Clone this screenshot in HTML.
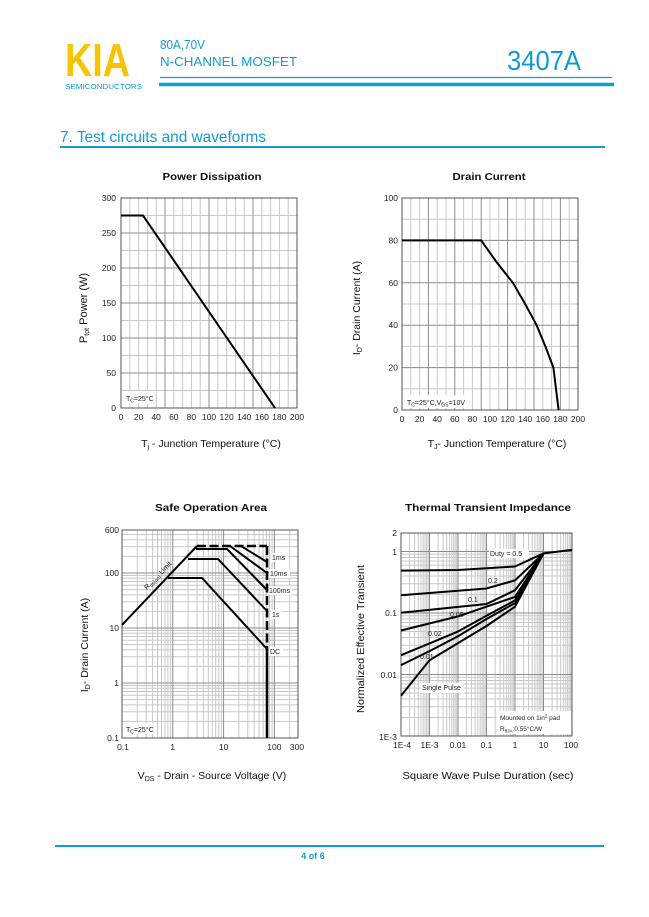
<!DOCTYPE html>
<html><head><meta charset="utf-8"><style>
html,body{margin:0;padding:0;background:#fff;}
svg{display:block;font-family:"Liberation Sans",sans-serif;}
</style></head><body>
<svg width="649" height="917" viewBox="0 0 649 917" xmlns="http://www.w3.org/2000/svg">
<rect width="649" height="917" fill="#fff"/>
<!-- HEADER -->
<text x="65" y="76" font-size="46" font-weight="bold" fill="#f8c300" textLength="65" lengthAdjust="spacingAndGlyphs">KIA</text>
<text x="65" y="89" font-size="7.5" fill="#0f9bd7" textLength="77" lengthAdjust="spacingAndGlyphs">SEMICONDUCTORS</text>
<text x="160" y="49" font-size="12.5" fill="#0f9bd7" textLength="45" lengthAdjust="spacingAndGlyphs">80A,70V</text>
<text x="160" y="66" font-size="12.5" fill="#0f9bd7" textLength="137" lengthAdjust="spacingAndGlyphs">N-CHANNEL MOSFET</text>
<text x="507" y="70" font-size="28" fill="#0f9bd7" textLength="74" lengthAdjust="spacingAndGlyphs">3407A</text>
<line x1="160" y1="77.5" x2="612" y2="77.5" stroke="#0f9bd7" stroke-width="1.3"/>
<line x1="159" y1="84.5" x2="614" y2="84.5" stroke="#0f9bd7" stroke-width="3.5"/>
<text x="60" y="142" font-size="16" fill="#0f9bd7" textLength="206" lengthAdjust="spacingAndGlyphs">7. Test circuits and waveforms</text>
<line x1="60" y1="147" x2="605" y2="147" stroke="#0f9bd7" stroke-width="2"/>

<!-- ================= POWER DISSIPATION ================= -->
<text x="212" y="180" font-size="10.5" font-weight="bold" text-anchor="middle" fill="#111" textLength="99" lengthAdjust="spacingAndGlyphs">Power Dissipation</text>
<path d="M129.8 198V408M138.6 198V408M147.4 198V408M156.2 198V408M173.8 198V408M182.6 198V408M191.4 198V408M200.2 198V408M217.8 198V408M226.6 198V408M235.4 198V408M244.2 198V408M261.8 198V408M270.6 198V408M279.4 198V408M288.2 198V408M121 390.5H297M121 355.5H297M121 320.5H297M121 285.5H297M121 250.5H297M121 215.5H297" stroke="#c8c8c8" stroke-width="1" fill="none"/>
<path d="M165 198V408M209 198V408M253 198V408M121 373H297M121 338H297M121 303H297M121 268H297M121 233H297" stroke="#8c8c8c" stroke-width="1" fill="none"/>
<rect x="121" y="198" width="176" height="210" fill="none" stroke="#555" stroke-width="1"/>
<polyline points="121,215.5 143,215.5 275,408" fill="none" stroke="#000" stroke-width="2"/>
<rect x="124" y="391" width="26" height="13" fill="#fff"/>
<text x="126" y="401" font-size="7" fill="#222">T<tspan font-size="5" dy="1.5">C</tspan><tspan dy="-1.5">=25°C</tspan></text>
<g font-size="8.5" fill="#222" text-anchor="end">
<text x="116" y="411">0</text><text x="116" y="376">50</text><text x="116" y="341">100</text><text x="116" y="306">150</text><text x="116" y="271">200</text><text x="116" y="236">250</text><text x="116" y="201">300</text>
</g>
<g font-size="8.5" fill="#222" text-anchor="middle">
<text x="121" y="420">0</text><text x="138.6" y="420">20</text><text x="156.2" y="420">40</text><text x="173.8" y="420">60</text><text x="191.4" y="420">80</text><text x="209" y="420">100</text><text x="226.6" y="420">120</text><text x="244.2" y="420">140</text><text x="261.8" y="420">160</text><text x="279.4" y="420">180</text><text x="297" y="420">200</text>
</g>
<text x="211" y="447" font-size="10.5" fill="#111" text-anchor="middle">T<tspan font-size="7" dy="2">j</tspan><tspan dy="-2"> - Junction Temperature (°C)</tspan></text>
<text transform="translate(87,308) rotate(-90)" font-size="11" fill="#111" text-anchor="middle">P<tspan font-size="7" dy="2">tot</tspan><tspan dy="-2">  Power (W)</tspan></text>

<!-- ================= DRAIN CURRENT ================= -->
<text x="489" y="180" font-size="10.5" font-weight="bold" text-anchor="middle" fill="#111" textLength="73" lengthAdjust="spacingAndGlyphs">Drain Current</text>
<path d="M410.8 198V410M419.6 198V410M437.2 198V410M446 198V410M463.6 198V410M472.4 198V410M490 198V410M498.8 198V410M516.4 198V410M525.2 198V410M542.8 198V410M551.6 198V410M569.2 198V410M402 388.8H578M402 346.4H578M402 304H578M402 261.6H578M402 219.2H578" stroke="#c8c8c8" stroke-width="1" fill="none"/>
<path d="M428.4 198V410M454.8 198V410M481.2 198V410M507.6 198V410M534 198V410M560.4 198V410M402 367.6H578M402 325.2H578M402 282.8H578M402 240.4H578" stroke="#8c8c8c" stroke-width="1" fill="none"/>
<rect x="402" y="198" width="176" height="212" fill="none" stroke="#555" stroke-width="1"/>
<polyline points="402,240.4 481.2,240.4 496.2,261.6 512.9,282.8 525.2,304 536.6,325.2 545.4,346.4 553.4,367.6 558.6,410" fill="none" stroke="#000" stroke-width="2"/>
<rect x="405" y="395" width="66" height="13" fill="#fff"/>
<text x="407" y="405" font-size="7" fill="#222">T<tspan font-size="5" dy="1.5">C</tspan><tspan dy="-1.5">=25°C,V</tspan><tspan font-size="5" dy="1.5">GS</tspan><tspan dy="-1.5">=10V</tspan></text>
<g font-size="8.5" fill="#222" text-anchor="end">
<text x="398" y="413">0</text><text x="398" y="370.6">20</text><text x="398" y="328.2">40</text><text x="398" y="285.8">60</text><text x="398" y="243.4">80</text><text x="398" y="201">100</text>
</g>
<g font-size="8.5" fill="#222" text-anchor="middle">
<text x="402" y="422">0</text><text x="419.6" y="422">20</text><text x="437.2" y="422">40</text><text x="454.8" y="422">60</text><text x="472.4" y="422">80</text><text x="490" y="422">100</text><text x="507.6" y="422">120</text><text x="525.2" y="422">140</text><text x="542.8" y="422">160</text><text x="560.4" y="422">180</text><text x="578" y="422">200</text>
</g>
<text x="497" y="447" font-size="10.5" fill="#111" text-anchor="middle">T<tspan font-size="7" dy="2">J</tspan><tspan dy="-2">- Junction Temperature (°C)</tspan></text>
<text transform="translate(360,308) rotate(-90)" font-size="10.5" fill="#111" text-anchor="middle">I<tspan font-size="7" dy="2">D</tspan><tspan dy="-2">- Drain Current (A)</tspan></text>

<!-- ================= SAFE OPERATION AREA ================= -->
<text x="211" y="511" font-size="10.5" font-weight="bold" text-anchor="middle" fill="#111" textLength="112" lengthAdjust="spacingAndGlyphs">Safe Operation Area</text>
<path d="M137.3 530V738M146.2 530V738M152.6 530V738M157.5 530V738M161.5 530V738M164.9 530V738M167.9 530V738M170.5 530V738M188.1 530V738M197 530V738M203.4 530V738M208.3 530V738M212.3 530V738M215.7 530V738M218.7 530V738M221.3 530V738M238.9 530V738M247.8 530V738M254.2 530V738M259.1 530V738M263.1 530V738M266.5 530V738M269.5 530V738M272.1 530V738M289.7 530V738
M122 721.4H298M122 711.8H298M122 704.9H298M122 699.6H298M122 695.2H298M122 691.5H298M122 688.3H298M122 685.5H298M122 666.4H298M122 656.8H298M122 649.9H298M122 644.6H298M122 640.2H298M122 636.5H298M122 633.3H298M122 630.5H298M122 611.4H298M122 601.8H298M122 594.9H298M122 589.6H298M122 585.2H298M122 581.5H298M122 578.3H298M122 575.5H298M122 556.4H298M122 546.8H298M122 539.9H298M122 534.6H298" stroke="#c8c8c8" stroke-width="1" fill="none"/>
<path d="M172.8 530V738M223.6 530V738M274.4 530V738M122 683H298M122 628H298M122 573H298" stroke="#8c8c8c" stroke-width="1" fill="none"/>
<rect x="122" y="530" width="176" height="208" fill="none" stroke="#555" stroke-width="1"/>
<g fill="none" stroke="#000" stroke-width="2">
<polyline points="122,625 197,546"/>
<polyline points="196,549 227,549 267,590"/>
<polyline points="188,559 218,559 267,611"/>
<polyline points="168,578 202,578 267,649"/>
<polyline points="241,546 267,562"/>
<polyline points="230,546 267,573"/>
<line x1="197" y1="546" x2="267" y2="546" stroke-width="2.6" stroke-dasharray="9,3.5"/>
<line x1="267" y1="546" x2="267" y2="650" stroke-width="2.6" stroke-dasharray="9,3.5"/>
<line x1="267" y1="650" x2="267" y2="738" stroke-width="2.6"/>
</g>
<g font-size="7" fill="#222">
<rect x="271" y="553" width="17" height="9" fill="#fff"/><text x="272" y="560">1ms</text>
<rect x="269" y="569" width="21" height="9" fill="#fff"/><text x="270" y="576">10ms</text>
<rect x="269" y="586" width="23" height="9" fill="#fff"/><text x="269" y="593">100ms</text>
<rect x="271" y="610" width="10" height="9" fill="#fff"/><text x="272" y="617">1s</text>
<rect x="269" y="647" width="14" height="9" fill="#fff"/><text x="270" y="654">DC</text>
<text transform="translate(147,590) rotate(-46)" font-size="7">R<tspan font-size="5" dy="1.5">ds(on)</tspan><tspan dy="-1.5"> Limit</tspan></text>
<rect x="124" y="723" width="30" height="11" fill="#fff"/>
<text x="126" y="732">T<tspan font-size="5" dy="1.5">C</tspan><tspan dy="-1.5">=25°C</tspan></text>
</g>
<g font-size="8.5" fill="#222" text-anchor="end">
<text x="119" y="533">600</text><text x="119" y="576">100</text><text x="119" y="631">10</text><text x="119" y="686">1</text><text x="119" y="741">0.1</text>
</g>
<g font-size="8.5" fill="#222" text-anchor="middle">
<text x="123" y="750">0.1</text><text x="172.8" y="750">1</text><text x="223.6" y="750">10</text><text x="274.4" y="750">100</text><text x="297" y="750">300</text>
</g>
<text x="212" y="779" font-size="10.5" fill="#111" text-anchor="middle">V<tspan font-size="7" dy="2">DS</tspan><tspan dy="-2"> - Drain - Source Voltage (V)</tspan></text>
<text transform="translate(88,645) rotate(-90)" font-size="10.5" fill="#111" text-anchor="middle">I<tspan font-size="7" dy="2">D</tspan><tspan dy="-2">- Drain Current (A)</tspan></text>

<!-- ================= THERMAL TRANSIENT IMPEDANCE ================= -->
<text x="488" y="511" font-size="10.5" font-weight="bold" text-anchor="middle" fill="#111" textLength="166" lengthAdjust="spacingAndGlyphs">Thermal Transient Impedance</text>
<path d="M409.6 533V736M414.6 533V736M418.2 533V736M420.9 533V736M423.2 533V736M425.1 533V736M426.7 533V736M428.2 533V736M438.1 533V736M443.1 533V736M446.7 533V736M449.4 533V736M451.7 533V736M453.6 533V736M455.2 533V736M456.7 533V736M466.6 533V736M471.6 533V736M475.2 533V736M477.9 533V736M480.2 533V736M482.1 533V736M483.7 533V736M485.2 533V736M495.1 533V736M500.1 533V736M503.7 533V736M506.4 533V736M508.7 533V736M510.6 533V736M512.2 533V736M513.7 533V736M523.6 533V736M528.6 533V736M532.2 533V736M534.9 533V736M537.2 533V736M539.1 533V736M540.7 533V736M542.2 533V736M552.1 533V736M557.1 533V736M560.7 533V736M563.4 533V736M565.7 533V736M567.6 533V736M569.2 533V736M570.7 533V736
M401 717.5H572M401 706.7H572M401 699H572M401 693H572M401 688.1H572M401 684H572M401 680.5H572M401 677.3H572M401 656H572M401 645.2H572M401 637.5H572M401 631.5H572M401 626.6H572M401 622.5H572M401 619H572M401 615.8H572M401 594.5H572M401 583.7H572M401 576H572M401 570H572M401 565.1H572M401 561H572M401 557.5H572M401 554.3H572" stroke="#c8c8c8" stroke-width="1" fill="none"/>
<path d="M429.5 533V736M458 533V736M486.5 533V736M515 533V736M543.5 533V736M401 674.5H572M401 613H572M401 551.5H572" stroke="#8c8c8c" stroke-width="1" fill="none"/>
<rect x="401" y="533" width="171" height="203" fill="none" stroke="#555" stroke-width="1"/>
<g fill="none" stroke="#000" stroke-width="2">
<polyline points="401,570.6 458,570 515,566.5 543.5,553.4 572,549.9"/>
<polyline points="401,595.2 486.5,588.5 515,580.3 543.5,553.4"/>
<polyline points="401,612.7 486.5,604 515,590.2 543.5,553.4"/>
<polyline points="401,630.5 458,616.4 515,596.9 543.5,553.4"/>
<polyline points="401,655.2 429.5,643.4 458,631.5 486.5,615.8 515,600.4 543.5,553.4"/>
<polyline points="401,665.1 429.5,651.1 458,636.2 486.5,619 515,603.1 543.5,553.4"/>
<polyline points="401,695.8 429.5,660.3 458,643.1 486.5,626 515,606.7 543.5,553.4"/>
</g>
<g font-size="7" fill="#222">
<rect x="489" y="549" width="40" height="9" fill="#fff"/><text x="490" y="556">Duty =  0.5</text>
<text x="488" y="583">0.2</text>
<text x="468" y="602">0.1</text>
<text x="450" y="617">0.05</text>
<text x="428" y="636">0.02</text>
<text x="420" y="659">0.01</text>
<rect x="420" y="683" width="44" height="10" fill="#fff"/><text x="422" y="690">Single Pulse</text>
<rect x="497" y="711" width="74" height="23" fill="#fff"/>
<text x="500" y="720" font-size="6.5">Mounted on 1in<tspan font-size="4.5" dy="-2.5">2</tspan><tspan dy="2.5"> pad</tspan></text>
<text x="500" y="731" font-size="6.5">R<tspan font-size="4.5" dy="1.5">θJA</tspan><tspan dy="-1.5">:0.55°C/W</tspan></text>
</g>
<g font-size="8.5" fill="#222" text-anchor="end">
<text x="397" y="536">2</text><text x="397" y="555">1</text><text x="397" y="616">0.1</text><text x="397" y="678">0.01</text><text x="397" y="740">1E-3</text>
</g>
<g font-size="8.5" fill="#222" text-anchor="middle">
<text x="402" y="748">1E-4</text><text x="429.5" y="748">1E-3</text><text x="458" y="748">0.01</text><text x="486.5" y="748">0.1</text><text x="515" y="748">1</text><text x="543.5" y="748">10</text><text x="571" y="748">100</text>
</g>
<text x="488" y="779" font-size="10.5" fill="#111" text-anchor="middle" textLength="171" lengthAdjust="spacingAndGlyphs">Square Wave Pulse Duration (sec)</text>
<text transform="translate(364,639) rotate(-90)" font-size="10.5" fill="#111" text-anchor="middle" textLength="148" lengthAdjust="spacingAndGlyphs">Normalized Effective Transient</text>

<!-- FOOTER -->
<line x1="55" y1="846" x2="604" y2="846" stroke="#0f9bd7" stroke-width="2"/>
<text x="313" y="859" font-size="9" font-weight="bold" fill="#0f9bd7" text-anchor="middle">4 of 6</text>
</svg>
</body></html>
